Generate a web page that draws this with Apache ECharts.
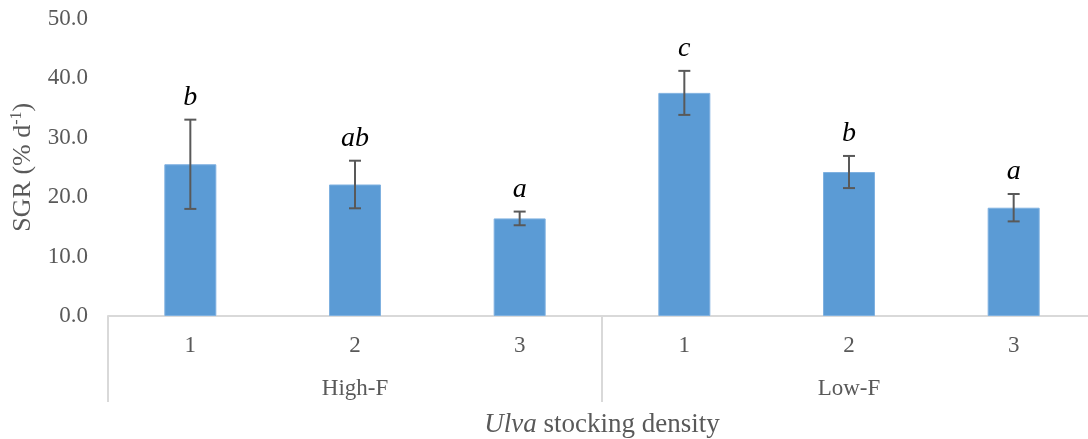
<!DOCTYPE html>
<html>
<head>
<meta charset="utf-8">
<script src="https://cdn.jsdelivr.net/npm/echarts@6/dist/echarts.min.js"></script>
<style>
html,body{margin:0;padding:0;background:#fff;overflow:hidden;width:1088px;height:439px;}
#chart{width:1096px;height:439px;}
</style>
</head>
<body>
<div id="chart"></div>
<script>
// ---- data ----
var categories = ['1', '2', '3', '1', '2', '3'];
var groups = ['High-F', 'Low-F'];
var sgrMean = [25.5, 22.1, 16.4, 37.5, 24.2, 18.2];
var sgrError = [7.5, 4.0, 1.15, 3.7, 2.7, 2.3];
var sigLetters = ['b', 'ab', 'a', 'c', 'b', 'a'];
var yTicks = [0, 10, 20, 30, 40, 50];

var FONT = '"Liberation Serif", "Times New Roman", serif';
var GREY = '#595959';
var AXIS = '#d9d9d9';

var errData = sgrMean.map(function (m, i) {
  return [i, m - sgrError[i], m + sgrError[i], sigLetters[i]];
});

var chart = echarts.init(document.getElementById('chart'));
chart.setOption({
  animation: false,
  backgroundColor: '#fff',
  grid: { left: 108, right: 0, top: 18.5, bottom: 123, containLabel: false, outerBoundsMode: 'none' },
  xAxis: [
    {
      type: 'category',
      data: categories,
      axisLine: { show: true, lineStyle: { color: AXIS, width: 2 } },
      axisTick: { show: false },
      axisLabel: { margin: 18, color: GREY, fontFamily: FONT, fontSize: 23 },
      splitLine: { show: false }
    },
    {
      type: 'category',
      data: groups,
      position: 'bottom',
      axisLine: { show: false },
      axisTick: { show: true, length: 86, interval: 0, lineStyle: { color: AXIS, width: 2 } },
      axisLabel: { margin: 61, color: GREY, fontFamily: FONT, fontSize: 23 },
      splitLine: { show: false },
      name: '{i|Ulva} stocking density',
      nameLocation: 'middle',
      nameGap: 95,
      nameTextStyle: {
        color: GREY, fontFamily: FONT, fontSize: 27,
        rich: { i: { fontStyle: 'italic', color: GREY, fontFamily: FONT, fontSize: 27 } }
      }
    }
  ],
  yAxis: {
    type: 'value',
    min: yTicks[0],
    max: yTicks[yTicks.length - 1],
    interval: yTicks[1] - yTicks[0],
    axisLine: { show: false },
    axisTick: { show: false },
    splitLine: { show: false },
    axisLabel: {
      margin: 20, color: GREY, fontFamily: FONT, fontSize: 23,
      formatter: function (v) { return v.toFixed(1); }
    },
    name: 'SGR (% d{sup|-1})',
    nameLocation: 'middle',
    nameRotate: 90,
    nameGap: 67,
    nameTextStyle: {
      color: GREY, fontFamily: FONT, fontSize: 26, lineHeight: 28,
      rich: {
        sup: { fontSize: 16, verticalAlign: 'top', color: GREY, fontFamily: FONT, lineHeight: 28 }
      }
    }
  },
  series: [
    {
      type: 'bar',
      xAxisIndex: 0,
      data: sgrMean,
      barWidth: 52,
      itemStyle: { color: '#5B9BD5', borderColor: '#7fb1e0', borderWidth: 1 },
      z: 2
    },
    {
      type: 'custom',
      xAxisIndex: 0,
      data: errData,
      z: 5,
      renderItem: function (params, api) {
        var x = api.value(0);
        var lo = api.coord([x, api.value(1)]);
        var hi = api.coord([x, api.value(2)]);
        var half = 6;
        var style = { stroke: GREY, lineWidth: 2 };
        return {
          type: 'group',
          children: [
            { type: 'line', shape: { x1: hi[0], y1: hi[1], x2: lo[0], y2: lo[1] }, style: style },
            { type: 'line', shape: { x1: hi[0] - half, y1: hi[1], x2: hi[0] + half, y2: hi[1] }, style: style },
            { type: 'line', shape: { x1: lo[0] - half, y1: lo[1], x2: lo[0] + half, y2: lo[1] }, style: style },
            {
              type: 'text',
              x: hi[0], y: hi[1] - 8,
              style: {
                text: sigLetters[params.dataIndex],
                fill: '#000',
                font: 'italic 28px ' + FONT,
                align: 'center',
                verticalAlign: 'bottom'
              }
            }
          ]
        };
      }
    }
  ]
});
</script>
</body>
</html>
